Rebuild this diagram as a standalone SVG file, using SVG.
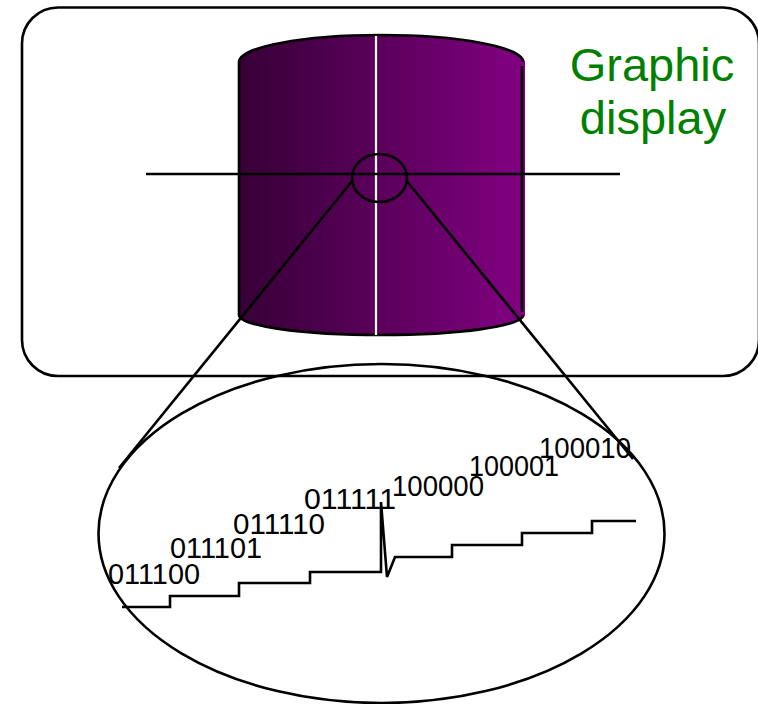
<svg xmlns="http://www.w3.org/2000/svg" width="758" height="704" viewBox="0 0 758 704">
  <style>
    .ln { fill: none; stroke: #000; stroke-width: 2.6; }
    .code { font-family: "Liberation Sans", Arial, sans-serif; font-size: 29px; fill: #000; }
    .title { font-family: "Liberation Sans", Arial, sans-serif; font-size: 47px; fill: #008000; text-anchor: middle; }
  </style>
  <defs>
    <linearGradient id="drum" x1="239" y1="0" x2="525" y2="0" gradientUnits="userSpaceOnUse">
      <stop offset="0" stop-color="#360036"/>
      <stop offset="1" stop-color="#820082"/>
    </linearGradient>
  </defs>

  <!-- display frame -->
  <g id="frame">
    <rect x="22" y="7.5" width="737" height="368.5" rx="36" ry="36" class="ln"/>
    <text class="title" x="652" y="81">Graphic</text>
    <text class="title" x="653" y="134">display</text>
  </g>

  <!-- cylinder -->
  <g id="cylinder">
    <path d="M239,62 A142,27 0 0 1 525,62 L525,315 A143,20 0 0 1 239,315 Z" fill="url(#drum)"/>
    <path d="M239,62 A142,27 0 0 1 523,62" class="ln"/>
    <path d="M239,315 A142,20 0 0 0 523,315" class="ln"/>
    <line x1="239" y1="62" x2="239" y2="315" class="ln"/>
    <line x1="522" y1="66" x2="522" y2="312" class="ln"/>
    <line x1="376" y1="36" x2="376" y2="335" stroke="#fff" stroke-width="2.2"/>
  </g>

  <!-- cross-section axis and magnifier -->
  <g id="connectors">
    <line x1="146" y1="174" x2="620" y2="174" class="ln"/>
    <line x1="353" y1="180" x2="119" y2="468" class="ln"/>
    <line x1="406" y1="180" x2="633" y2="459" class="ln"/>
  </g>

  <g id="lens">
    <ellipse cx="379.5" cy="178" rx="27.5" ry="24" class="ln"/>
  </g>

  <!-- magnified detail -->
  <g id="zoom">
    <ellipse cx="381.5" cy="533.5" rx="283" ry="169.5" class="ln"/>
    <polyline class="ln" points="122,607 170,607 170,596 239,596 239,583 310,583 310,572 381,572 381,502 387,577 395,557 452,557 452,545 522,545 522,533 592,533 592,521 636,521"/>
    <text class="code" x="108" y="584" textLength="92" lengthAdjust="spacingAndGlyphs">011100</text>
    <text class="code" x="170" y="558" textLength="92" lengthAdjust="spacingAndGlyphs">011101</text>
    <text class="code" x="233" y="534" textLength="92" lengthAdjust="spacingAndGlyphs">011110</text>
    <text class="code" x="304" y="509" textLength="92" lengthAdjust="spacingAndGlyphs">011111</text>
    <text class="code" x="392" y="496" textLength="92" lengthAdjust="spacingAndGlyphs">100000</text>
    <text class="code" x="469" y="476" textLength="90" lengthAdjust="spacingAndGlyphs">100001</text>
    <text class="code" x="539" y="458" textLength="92" lengthAdjust="spacingAndGlyphs">100010</text>
  </g>
</svg>
